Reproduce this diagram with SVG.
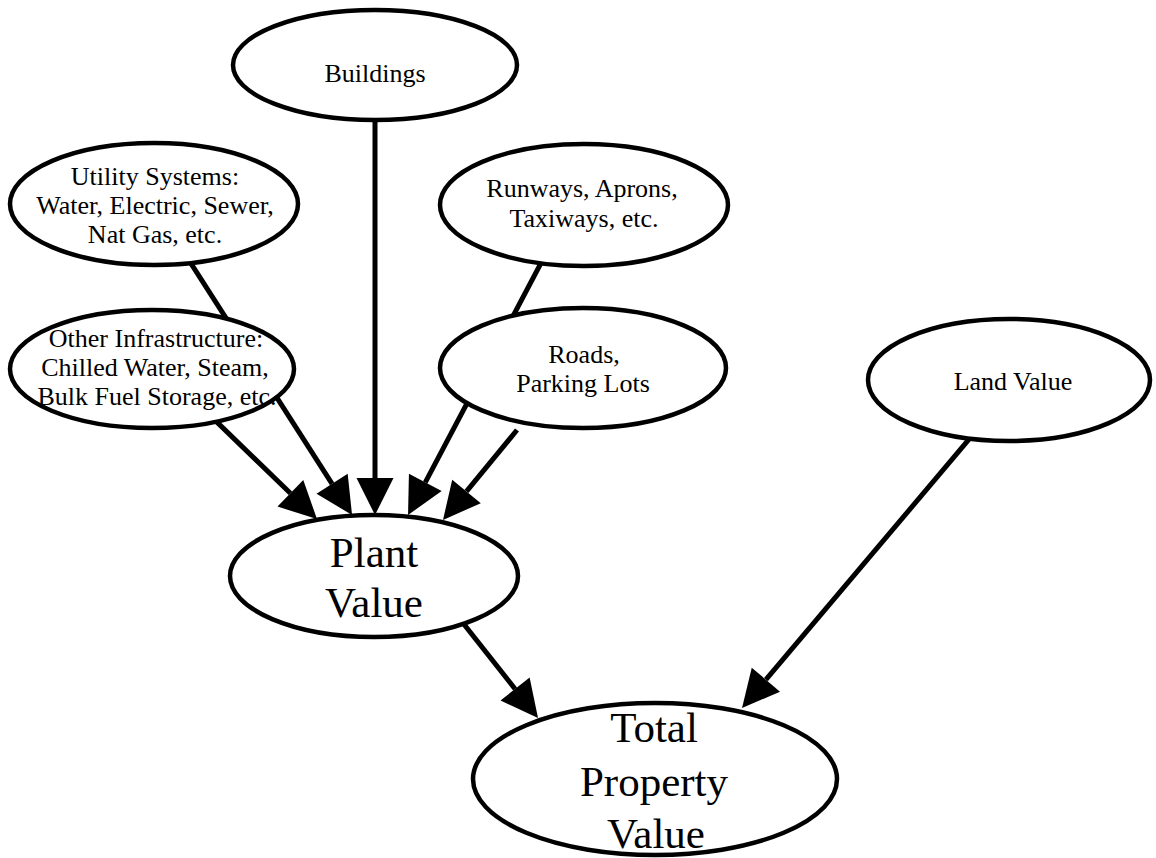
<svg xmlns="http://www.w3.org/2000/svg" width="1156" height="858" viewBox="0 0 1156 858">
<style>
.n ellipse{fill:#fff;stroke:#000;stroke-width:4.5}
.t{font-family:"Liberation Serif","Times New Roman",serif;font-size:26px;fill:#000;text-anchor:middle}
.b{font-family:"Liberation Serif","Times New Roman",serif;font-size:43px;fill:#000;text-anchor:middle}
.e line{stroke:#000;stroke-width:5;marker-end:url(#ah)}
</style>
<defs>
<marker id="ah" markerUnits="userSpaceOnUse" markerWidth="38" markerHeight="38" viewBox="0 -19 38 38" refX="0" refY="0" orient="auto" overflow="visible">
<path d="M0,-18.5 L37,0 L0,18.5 Z" fill="#000"/>
</marker>
</defs>
<g id="connectors" class="e">
<line x1="205.6" y1="411.1" x2="290.4" y2="493.3"/>
<line x1="181.2" y1="248.2" x2="332.1" y2="483.8"/>
<line x1="375" y1="100" x2="375" y2="478"/>
<line x1="549.3" y1="247.3" x2="425.3" y2="482.3"/>
<line x1="517" y1="430" x2="466.5" y2="491.4"/>
<line x1="460.8" y1="620.2" x2="515.1" y2="689"/>
<line x1="976.5" y1="430.4" x2="765.9" y2="679.7"/>
</g>
<g id="buildings" class="n">
<ellipse cx="375" cy="65" rx="142" ry="55"/>
<text class="t" x="375" y="82">Buildings</text>
</g>
<g id="utility" class="n">
<ellipse cx="154" cy="204" rx="144" ry="61"/>
<text class="t" x="155" y="185">Utility Systems:</text>
<text class="t" x="155" y="214">Water, Electric, Sewer,</text>
<text class="t" x="155" y="243">Nat Gas, etc.</text>
</g>
<g id="other" class="n">
<ellipse cx="152" cy="369" rx="142" ry="59"/>
<text class="t" x="156" y="347">Other Infrastructure:</text>
<text class="t" x="155" y="376">Chilled Water, Steam,</text>
<text class="t" x="157" y="405">Bulk Fuel Storage, etc.</text>
</g>
<g id="runways" class="n">
<ellipse cx="584" cy="205" rx="144" ry="61"/>
<text class="t" x="582" y="197">Runways, Aprons,</text>
<text class="t" x="584" y="227">Taxiways, etc.</text>
</g>
<g id="roads" class="n">
<ellipse cx="583" cy="368" rx="143" ry="60"/>
<text class="t" x="584" y="363">Roads,</text>
<text class="t" x="583" y="392">Parking Lots</text>
</g>
<g id="land" class="n">
<ellipse cx="1009" cy="380" rx="141" ry="61"/>
<text class="t" x="1013" y="390">Land Value</text>
</g>
<g id="plant" class="n">
<ellipse cx="374" cy="576" rx="144" ry="61"/>
<text class="b" x="374" y="567">Plant</text>
<text class="b" x="374" y="617">Value</text>
</g>
<g id="total" class="n">
<ellipse cx="655" cy="779" rx="182" ry="76"/>
<text class="b" x="654" y="742">Total</text>
<text class="b" x="654" y="796">Property</text>
<text class="b" x="656" y="848">Value</text>
</g>
</svg>
